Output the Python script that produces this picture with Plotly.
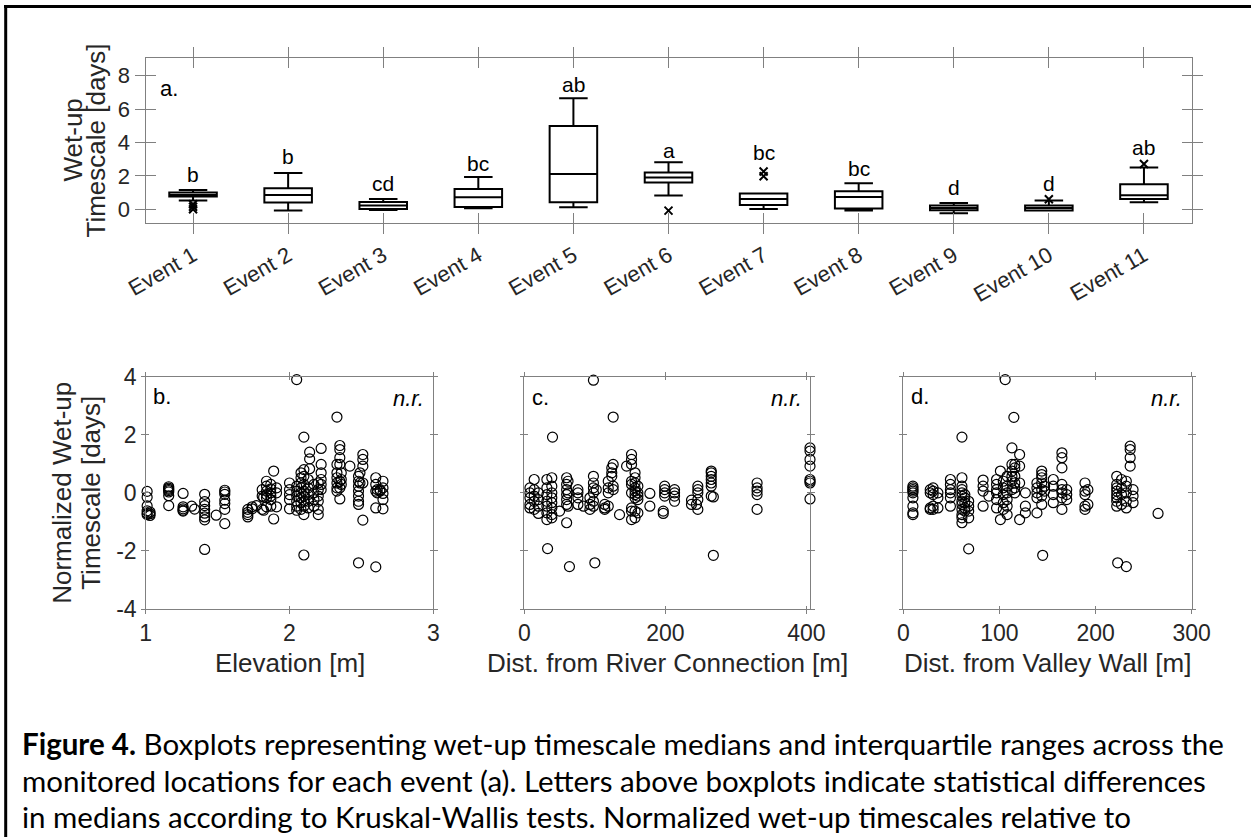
import plotly.graph_objects as go

W, H = 1251, 837

# ---------------- data: panel a (boxplots) ----------------
event_labels = ["Event 1", "Event 2", "Event 3", "Event 4", "Event 5", "Event 6",
                "Event 7", "Event 8", "Event 9", "Event 10", "Event 11"]
event_pos = [1, 2, 3, 4, 5, 6, 7, 8, 9, 10, 11]
box_q1 = [0.76, 0.40, 0.02, 0.14, 0.42, 1.60, 0.26, 0.04, -0.06, -0.08, 0.62]
box_med = [0.85, 0.86, 0.22, 0.72, 2.12, 1.90, 0.62, 0.74, 0.08, 0.07, 0.84]
box_q3 = [1.00, 1.26, 0.44, 1.22, 4.99, 2.20, 0.94, 1.08, 0.22, 0.22, 1.50]
box_lo = [0.52, -0.08, -0.04, 0.06, 0.12, 0.82, 0.02, -0.08, -0.24, -0.08, 0.42]
box_hi = [1.16, 2.18, 0.62, 1.94, 6.65, 2.81, 0.94, 1.56, 0.38, 0.52, 2.51]
outlier_x = [1, 1, 1, 6, 7, 7, 10, 11]
outlier_y = [0.30, 0.15, 0.0, -0.08, 2.26, 1.98, 0.60, 2.71]
sig_letters = ["b", "b", "cd", "bc", "ab", "a", "bc", "bc", "d", "d", "ab"]
sig_y = [2.06, 3.15, 1.56, 2.75, 7.45, 3.55, 3.39, 2.45, 1.32, 1.56, 3.71]

# ---------------- data: panel b (elevation) ----------------
elev_groups = [
    (1.01, [0.05, -0.15, -0.45, -0.62, -0.70, -0.75]),
    (1.03, [-0.72, -0.66, -0.78]),
    (1.16, [0.21, 0.16, 0.12, 0.08, 0.03, -0.10, -0.44]),
    (1.26, [-0.02, -0.48, -0.55, -0.60, -0.63]),
    (1.32, [-0.46]),
    (1.34, [-0.56]),
    (1.41, [-0.05, -0.30, -0.44, -0.57, -0.70, -0.83, -0.93, -1.95]),
    (1.49, [-0.77]),
    (1.55, [0.09, 0.03, -0.05, -0.25, -0.37, -0.57, -1.06]),
    (1.71, [-0.57, -0.67, -0.75, -0.83]),
    (1.74, [-0.48, -0.55]),
    (1.77, [-0.44]),
    (1.81, [0.11, -0.11, -0.57]),
    (1.82, [-0.60, -0.15]),
    (1.84, [0.40, 0.23, 0.06, -0.06, -0.17, -0.48]),
    (1.87, [0.29, 0.14, 0.0, -0.11, -0.23, -0.46]),
    (1.89, [0.75, -0.90]),
    (1.91, [0.17, 0.0, -0.48]),
    (2.00, [0.34, 0.11, -0.06, -0.23, -0.55]),
    (2.05, [0.23, 0.06, -0.11, -0.29, -0.46, -0.60, 3.90]),
    (2.08, [0.69, 0.52, 0.34, 0.17, 0.0, -0.17, -0.34, -0.57]),
    (2.10, [0.80, 0.57, 0.29, 0.06, -0.11, -0.29, -0.46, -0.75, 1.92, -2.14]),
    (2.13, [0.46, 0.17, -0.06, -0.29, -0.52]),
    (2.14, [1.40, 1.17, 0.83]),
    (2.17, [0.29, 0.0, -0.23, -0.46]),
    (2.20, [0.34, 0.11, -0.11, -0.29, -0.57, -0.75]),
    (2.22, [1.53, 0.98, 0.69, 0.46, 0.29, 0.11]),
    (2.33, [0.98, 0.69, 0.52, 0.34, 0.17, 0.06, 2.61]),
    (2.35, [1.63, 1.49, 1.21, 0.98, 0.40, 0.17, -0.21]),
    (2.36, [0.69, 0.46, 0.29]),
    (2.42, [0.92]),
    (2.48, [0.57, 0.40, 0.23, 0.06, -0.11, -0.29, -0.40, -2.41]),
    (2.49, [0.69, 0.34]),
    (2.51, [1.32, 1.15, 0.92, 0.34, -0.94]),
    (2.60, [0.52, 0.29, 0.06, -0.52, -2.55]),
    (2.61, [0.11, 0.0]),
    (2.63, [0.11, 0.06]),
    (2.65, [0.40, 0.17, -0.02, -0.23, -0.55]),
]

# ---------------- data: panel c (distance from river connection) ----------------
river_groups = [
    (8, [0.17, 0.0, -0.17, -0.40, -0.52]),
    (14, [0.46, 0.11, -0.11, -0.29, -0.57]),
    (20, [0.0, -0.23, -0.46, -0.71]),
    (32, [0.46, 0.17, -0.06, -0.29, -0.46, -0.69, -0.92]),
    (33, [-1.92]),
    (39, [0.52, 0.23, 0.0, -0.17, -0.34, -0.52, -0.75, -0.86]),
    (40, [1.92]),
    (50, [-0.63]),
    (60, [0.52, 0.29, 0.11, -0.06, -0.23, -0.40, -1.03]),
    (62, [0.40, 0.0, -0.46]),
    (64, [-2.54]),
    (76, [0.11, 0.0, -0.17, -0.40]),
    (84, [-0.46]),
    (93, [-0.17, -0.40, -0.57]),
    (98, [0.57, 0.34, 0.17, 0.0, -0.29, -0.46, 3.88]),
    (100, [-2.41]),
    (102, [0.11]),
    (114, [-0.40, -0.52, -0.57]),
    (119, [0.40, 0.17, 0.0, -0.46]),
    (124, [0.86, 0.69, 0.57]),
    (126, [0.98, 0.23, 0.11, 2.61]),
    (135, [-0.75]),
    (145, [0.92]),
    (152, [1.32, 1.15, 0.98, 0.40, 0.29, 0.0, -0.52, -0.63, -0.92]),
    (157, [0.69, 0.52, 0.34, 0.17, 0.06, -0.06, -0.17, -0.63, -0.86]),
    (161, [0.23, 0.0, -0.11, -0.23, -0.69]),
    (178, [-0.02, -0.46]),
    (197, [-0.63, -0.71]),
    (199, [0.23, 0.11, 0.0, -0.11]),
    (213, [0.11, 0.0, -0.11, -0.29]),
    (237, [-0.25, -0.40]),
    (244, [-0.40]),
    (246, [0.23, 0.11, 0.0, -0.23, -0.57]),
    (265, [0.75, 0.69, 0.57, 0.46, 0.34, 0.23, -0.11]),
    (268, [-0.14, -2.15]),
    (330, [0.34, 0.17, 0.06, -0.06, -0.57]),
    (405, [1.55, 1.44, 1.15, 0.92, 0.46, 0.40, 0.34, -0.21]),
]

# ---------------- data: panel d (distance from valley wall) ----------------
wall_groups = [
    (10, [0.23, 0.17, 0.11, 0.06, 0.0, -0.17, -0.46, -0.69, -0.75]),
    (28, [0.11, 0.0, -0.52, -0.57]),
    (31, [0.17, 0.06, -0.06, -0.46, -0.57]),
    (36, [0.0, -0.17, -0.52]),
    (49, [0.46, 0.29, 0.11, 0.0, -0.17, -0.46]),
    (61, [0.52, 0.23, 0.11, 0.0, -0.11, -0.29, -0.40, -0.57, -0.75, -0.86, -1.03, 1.92]),
    (64, [-0.06, -0.17, -0.34, -0.52, -0.63]),
    (68, [-0.29, -0.46, -0.63, -0.86, -1.93]),
    (83, [0.44, 0.23, 0.06, -0.46]),
    (89, [-0.11]),
    (97, [0.46, 0.29, 0.11, 0.0, -0.23, -0.52]),
    (101, [0.75, -0.92]),
    (104, [0.40, 0.17, -0.06, -0.34, -0.57]),
    (106, [3.90]),
    (108, [0.57, 0.23, 0.0, -0.23, -0.46, -0.75]),
    (113, [1.55, 0.98, 0.75, 0.57, 0.40, 0.11]),
    (115, [2.60]),
    (116, [0.98, 0.86, 0.57, 0.34, 0.17, 0.0]),
    (121, [1.32, 0.92, 0.34, -0.92]),
    (127, [0.0, -0.46, -0.69]),
    (139, [0.34, 0.17, 0.0, -0.17, -0.69]),
    (144, [0.75, 0.63, 0.52, 0.34, 0.11, -0.11, -0.40]),
    (145, [-2.15]),
    (147, [0.23, 0.06]),
    (156, [0.46, 0.23, -0.06, -0.34]),
    (165, [1.38, 1.21, 0.86, 0.29, 0.11, 0.0, -0.17, -0.57]),
    (170, [0.11, -0.06, -0.23]),
    (189, [0.34, 0.06, -0.06, -0.46, -0.57]),
    (192, [0.11, -0.40]),
    (222, [0.57, 0.29, 0.17, 0.06, -0.06, -0.17, -0.29, -0.46]),
    (223, [-2.41]),
    (227, [0.46, 0.17, -0.06, -0.40]),
    (232, [0.40, 0.23, 0.0, -0.29, -0.52, -2.54]),
    (236, [1.61, 1.49, 1.21, 0.92]),
    (239, [0.11, -0.11, -0.34]),
    (265, [-0.71]),
]

scatter_yticks = [-4, -2, 0, 2, 4]
scatter_yticktext = ["-4", "-2", "0", "2", "4"]
elev_xticks = [1, 2, 3]
river_xticks = [0, 200, 400]
wall_xticks = [0, 100, 200, 300]
box_yticks = [0, 2, 4, 6, 8]


def expand(groups):
    xs, ys = [], []
    for gx, gys in groups:
        for v in gys:
            xs.append(gx)
            ys.append(v)
    return xs, ys


# ---------------- helpers: pixel geometry -> paper ----------------
def dx(l, r):
    return [l / W, r / W]


def dy(top, bottom):
    return [1 - bottom / H, 1 - top / H]


def px(x):
    return x / W


def py(y):
    return 1 - y / H


FONT = "Liberation Sans, Arial, Helvetica, sans-serif"
TXT = "#262626"
AX = "#808080"

fig = go.Figure()

# panel a: boxes
fig.add_trace(go.Box(
    x=event_pos, q1=box_q1, median=box_med, q3=box_q3,
    lowerfence=box_lo, upperfence=box_hi,
    boxpoints=False, width=0.5, whiskerwidth=0.6,
    fillcolor="white", line=dict(color="black", width=2),
    xaxis="x", yaxis="y", showlegend=False, hoverinfo="skip"))
fig.add_trace(go.Scatter(
    x=outlier_x, y=outlier_y, mode="markers",
    marker=dict(symbol="x-thin", size=8, line=dict(color="black", width=2)),
    xaxis="x", yaxis="y", showlegend=False, hoverinfo="skip"))

# panels b, c, d
for groups, xa, ya in [(elev_groups, "x2", "y2"), (river_groups, "x3", "y3"), (wall_groups, "x4", "y4")]:
    xs, ys = expand(groups)
    fig.add_trace(go.Scatter(
        x=xs, y=ys, mode="markers", cliponaxis=False,
        marker=dict(symbol="circle-open", size=10, color="black", line=dict(color="black", width=1.2)),
        xaxis=xa, yaxis=ya, showlegend=False, hoverinfo="skip"))

# empty traces for overlay axes (inner tick halves)
for i in range(5, 9):
    fig.add_trace(go.Scatter(x=[None], y=[None], mode="markers", xaxis=f"x{i}", yaxis=f"y{i}",
                             showlegend=False, hoverinfo="skip"))

# ---------------- geometry ----------------
top_x = dx(145.5, 1191.5)
top_y = dy(57.7, 223.3)
bot_y = dy(376.7, 609.0)
b_x = dx(145.7, 433.3)
c_x = dx(524.3, 810.0)
d_x = dx(903.3, 1191.7)

panels = [
    (top_x, top_y, [0.5, 11.5], [-0.84, 9.08], event_pos, event_labels, box_yticks, [str(v) for v in box_yticks], 10, True),
    (b_x, bot_y, [1, 3], [-4, 4], elev_xticks, [str(v) for v in elev_xticks], scatter_yticks, scatter_yticktext, 3.5, True),
    (c_x, bot_y, [0, 405], [-4, 4], river_xticks, [str(v) for v in river_xticks], scatter_yticks, scatter_yticktext, 3.5, False),
    (d_x, bot_y, [0, 300], [-4, 4], wall_xticks, [str(v) for v in wall_xticks], scatter_yticks, scatter_yticktext, 3.5, False),
]

layout = dict(
    template="none",
    width=W, height=H, margin=dict(l=0, r=0, t=0, b=0, pad=0, autoexpand=False),
    paper_bgcolor="white", plot_bgcolor="white", showlegend=False,
    font=dict(family=FONT, color=TXT),
)

for k, (xd, yd, xr, yr, xt, xtt, yt, ytt, tl, showy) in enumerate(panels):
    i = k + 1
    o = k + 5
    xn = "xaxis" if i == 1 else f"xaxis{i}"
    yn = "yaxis" if i == 1 else f"yaxis{i}"
    xid = "x" if i == 1 else f"x{i}"
    yid = "y" if i == 1 else f"y{i}"
    tfs = 22 if i == 1 else 23
    layout[xn] = dict(
        domain=xd, range=xr, anchor=yid, tickmode="array", tickvals=xt, ticktext=xtt,
        ticks="outside", ticklen=tl, tickwidth=1, tickcolor=AX,
        showline=True, linecolor=AX, linewidth=1, mirror="ticks", automargin=False,
        showgrid=False, zeroline=False, tickfont=dict(size=tfs, color=TXT, family=FONT),
        tickangle=-30 if i == 1 else 0,
    )
    layout[yn] = dict(
        domain=yd, range=yr, anchor=xid, tickmode="array", tickvals=yt, ticktext=ytt,
        ticks="outside", ticklen=tl, tickwidth=1, tickcolor=AX,
        showline=True, linecolor=AX, linewidth=1, mirror="ticks", automargin=False,
        showgrid=False, zeroline=False, showticklabels=showy,
        tickfont=dict(size=tfs, color=TXT, family=FONT),
    )
    layout[f"xaxis{o}"] = dict(
        domain=xd, range=xr, overlaying=xid, anchor=f"y{o}", tickmode="array", tickvals=xt,
        ticks="inside", ticklen=tl, tickwidth=1, tickcolor=AX, showline=False, mirror="ticks",
        showticklabels=False, showgrid=False, zeroline=False, automargin=False,
    )
    layout[f"yaxis{o}"] = dict(
        domain=yd, range=yr, overlaying=yid, anchor=f"x{o}", tickmode="array", tickvals=yt,
        ticks="inside", ticklen=tl, tickwidth=1, tickcolor=AX, showline=False, mirror="ticks",
        showticklabels=False, showgrid=False, zeroline=False, automargin=False,
    )

fig.update_layout(**layout)

ann = []
# significance letters
for xpos, lab, yv in zip(event_pos, sig_letters, sig_y):
    ann.append(dict(x=xpos, y=yv, xref="x", yref="y", text=lab, showarrow=False,
                    font=dict(size=21, color="black", family=FONT), xanchor="center", yanchor="middle"))


def txt(x, y, text, size, xanchor="center", angle=0, color=TXT, family=FONT):
    ann.append(dict(x=px(x), y=py(y), xref="paper", yref="paper", text=text, showarrow=False,
                    font=dict(size=size, color=color, family=family), xanchor=xanchor, yanchor="middle",
                    textangle=angle))


# axis titles
txt(72, 140.5, "Wet-up", 26, angle=-90)
txt(95, 140.5, "Timescale [days]", 26, angle=-90)
txt(62, 492.8, "Normalized Wet-up", 26, angle=-90)
txt(91, 492.8, "Timescale [days]", 26, angle=-90)
txt(289.5, 663, "Elevation [m]", 26)
txt(667, 663, "Dist. from River Connection [m]", 26)
txt(1047.5, 663, "Dist. from Valley Wall [m]", 26)

# panel labels
txt(158, 88, "a.", 22, xanchor="left", color="black")
txt(151, 396, "b.", 22, xanchor="left", color="black")
txt(530, 397, "c.", 22, xanchor="left", color="black")
txt(909, 396, "d.", 22, xanchor="left", color="black")
for xr_ in (426, 804, 1184):
    txt(xr_, 399, "<i>n.r.</i>", 22, xanchor="right", color="black")

# caption
CAP = "Lato, Carlito, Calibri, sans-serif"
txt(20, 743, "<b>Figure 4.</b> Boxplots representing wet-up timescale medians and interquartile ranges across the",
    29.5, xanchor="left", color="black", family=CAP)
txt(20, 780, "monitored locations for each event (a). Letters above boxplots indicate statistical differences",
    29.5, xanchor="left", color="black", family=CAP)
txt(20, 816, "in medians according to Kruskal-Wallis tests. Normalized wet-up timescales relative to",
    29.5, xanchor="left", color="black", family=CAP)

fig.update_layout(annotations=ann)

# figure frame (top and left rules)
fig.update_layout(shapes=[
    dict(type="line", xref="paper", yref="paper", x0=px(4), x1=1, y0=py(6.5), y1=py(6.5),
         line=dict(color="black", width=3)),
    dict(type="line", xref="paper", yref="paper", x0=px(5.7), x1=px(5.7), y0=py(5), y1=0,
         line=dict(color="black", width=3)),
])

fig.write_html(
    "out.html",
    config={"displayModeBar": False},
    post_script="document.body.style.margin='0';document.body.style.overflow='hidden';",
)
